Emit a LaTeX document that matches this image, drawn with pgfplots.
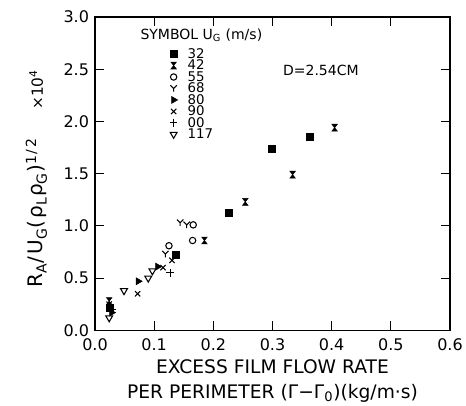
\documentclass[border=0pt]{standalone}
\usepackage{fontspec}
\setmainfont{DejaVu Sans}
\usepackage{pgfplots}
\pgfplotsset{compat=1.18}

\pgfdeclareplotmark{hourglass}{%
  \pgfpathmoveto{\pgfqpoint{-0.8\pgfplotmarksize}{\pgfplotmarksize}}%
  \pgfpathlineto{\pgfqpoint{0.8\pgfplotmarksize}{\pgfplotmarksize}}%
  \pgfpathlineto{\pgfqpoint{-0.8\pgfplotmarksize}{-\pgfplotmarksize}}%
  \pgfpathlineto{\pgfqpoint{0.8\pgfplotmarksize}{-\pgfplotmarksize}}%
  \pgfpathclose\pgfusepathqfillstroke}
\pgfdeclareplotmark{ymark}{%
  \pgfpathmoveto{\pgfqpoint{-\pgfplotmarksize}{\pgfplotmarksize}}%
  \pgfpathlineto{\pgfqpoint{0pt}{0pt}}%
  \pgfpathlineto{\pgfqpoint{\pgfplotmarksize}{\pgfplotmarksize}}%
  \pgfpathmoveto{\pgfqpoint{0pt}{0pt}}%
  \pgfpathlineto{\pgfqpoint{0pt}{-\pgfplotmarksize}}%
  \pgfusepathqstroke}

\begin{document}
\begin{tikzpicture}
\begin{axis}[
  scale only axis,
  width=266.25pt, height=235pt,
  xmin=0, xmax=0.6, ymin=0, ymax=3,
  xtick={0,0.1,...,0.6}, ytick={0,0.5,...,3},
  tick align=inside,
  major tick length=7pt,
  clip=false,
  axis line style={line width=0.9pt},
  every tick/.style={line width=0.8pt, black},
  /pgf/number format/assume math mode=true,
  /pgf/number format/fixed, /pgf/number format/fixed zerofill,
  /pgf/number format/precision=1,
  tick label style={font=\fontsize{12}{12}\selectfont},
  xticklabel style={yshift=-2.5pt},
  yticklabel style={xshift=-1pt},
  xlabel={EXCESS FILM FLOW RATE\\PER PERIMETER (Γ−Γ\textsubscript{0})(kg/m·s)},
  xlabel style={font=\fontsize{14}{18.75}\selectfont, align=center,
    at={(axis description cs:0.5,-0.0786)}, anchor=north},
  legend style={at={(axis description cs:0.202,0.90)}, anchor=north west, draw=none, fill=none,
    font=\fontsize{10}{10}\selectfont, row sep=0.4pt, column sep=0pt, inner sep=0pt,
    nodes={inner sep=0pt, text height=7.3pt, text depth=0.9pt}},
  legend cell align=left,
  legend image code/.code={\path[draw=none, fill=none] (-5pt,-3pt) rectangle (10.5pt,3pt); \draw[#1] plot coordinates {(0pt,0pt)};},
  mark size=2.6pt,
]
\addplot[only marks, mark=square*, black] coordinates {
 (0.025,0.22) (0.137,0.72) (0.226,1.13) (0.298,1.74) (0.363,1.85)};
\addlegendentry{32}
\addplot[only marks, mark=hourglass, black, mark size=2.6pt] coordinates {
 (0.024,0.28) (0.185,0.86) (0.254,1.23) (0.334,1.49) (0.405,1.94)};
\addlegendentry{42}
\addplot[only marks, mark=o, black, mark size=2.4pt, thick] coordinates {
 (0.125,0.81) (0.165,0.86) (0.166,1.01)};
\addlegendentry{55}
\addplot[only marks, mark=ymark, black, thick, mark size=2.4pt] coordinates {
 (0.144,1.03) (0.155,1.01) (0.119,0.73)};
\addlegendentry{68}
\addplot[only marks, mark=triangle*, black, mark options={rotate=-90}, mark size=3pt] coordinates {
 (0.028,0.17) (0.073,0.47) (0.106,0.61)};
\addlegendentry{80}
\addplot[only marks, mark=x, black, thick, mark size=2.8pt] coordinates {
 (0.024,0.25) (0.072,0.35) (0.115,0.60) (0.130,0.67)};
\addlegendentry{90}
\addplot[only marks, mark=+, black, thick, mark size=2.8pt] coordinates {
 (0.127,0.55) (0.030,0.20)};
\addlegendentry{00}
\addplot[only marks, mark=triangle, black, thick, mark options={rotate=180}, mark size=3pt] coordinates {
 (0.024,0.12) (0.049,0.38) (0.090,0.50) (0.097,0.57)};
\addlegendentry{117}
\node[anchor=west, font=\fontsize{10.5}{10.5}\selectfont] at (axis description cs:0.115,0.942) {SYMBOL U\textsubscript{G} (m/s)};
\node[anchor=west, font=\fontsize{10.5}{10.5}\selectfont] at (axis cs:0.31,2.49) {D=2.54CM};
\node[rotate=90, anchor=base west, inner sep=0pt, font=\fontsize{15}{15}\selectfont\addfontfeature{LetterSpace=12}]
  at (axis description cs:-0.1465,0.135) {R\textsubscript{A}/U\textsubscript{G}(ρ\textsubscript{L}ρ\textsubscript{G})\textsuperscript{1/2}};
\node[rotate=90, anchor=base west, inner sep=0pt, font=\fontsize{11.5}{11.5}\selectfont]
  at (axis description cs:-0.1465,0.703) {×10\textsuperscript{4}};
\end{axis}
\pgfresetboundingbox
\path ([shift={(-71.25pt,-56.25pt)}]current axis.south west) rectangle ([shift={(12pt,12.75pt)}]current axis.north east);
\end{tikzpicture}
\end{document}
